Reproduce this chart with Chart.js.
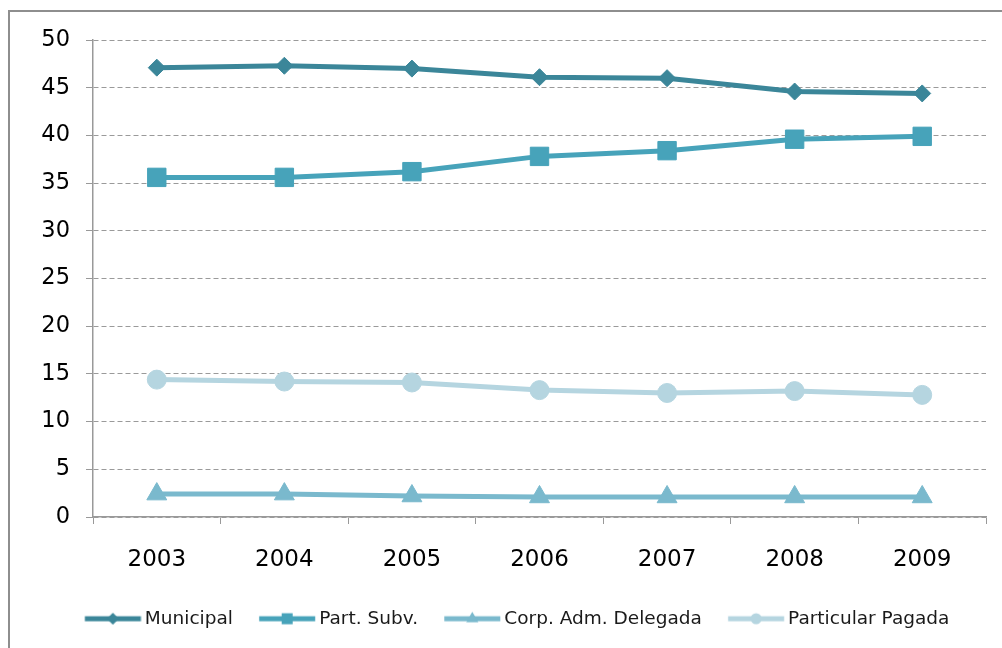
<!DOCTYPE html>
<html>
<head>
<meta charset="utf-8">
<script src="https://cdn.jsdelivr.net/npm/chart.js@4.4.1/dist/chart.umd.min.js"></script>
<style>
html,body{margin:0;padding:0;background:#fff;overflow:hidden}
#wrap{position:relative;width:1002px;height:648px;overflow:hidden}
#frame{position:absolute;left:8px;top:10px;width:1100px;height:700px;border:2px solid #8e8e8e;box-sizing:border-box;pointer-events:none}
canvas{position:absolute;left:0;top:0}
</style>
</head>
<body>
<div id="wrap"><canvas id="c" width="1002" height="648"></canvas><div id="frame"></div></div>
<script>
// ---- data ----
const years = ['2003', '2004', '2005', '2006', '2007', '2008', '2009'];
const municipal = [47.1, 47.3, 47.0, 46.1, 46.0, 44.6, 44.4];
const partSubv = [35.6, 35.6, 36.2, 37.8, 38.4, 39.6, 39.9];
const corpAdm = [2.4, 2.4, 2.2, 2.1, 2.1, 2.1, 2.1];
const particular = [14.4, 14.2, 14.1, 13.3, 13.0, 13.2, 12.8];
const seriesNames = ['Municipal', 'Part. Subv.', 'Corp. Adm. Delegada', 'Particular Pagada'];
const yMin = 0, yMax = 50, yStep = 5;

// ---- styles ----
const colors = ['#3b8699', '#47a3ba', '#7ab9cd', '#b5d5e0'];
const FS = 18.5, BW = 64, VIS = 56, GAPT = 4;

function makeSample(color, style, size) {
  const W = 76, H = 22;
  const c = document.createElement('canvas');
  c.width = W; c.height = H;
  const g = c.getContext('2d');
  const center = BW / 2;
  const visEnd = BW + FS / 2 - GAPT;
  const visStart = visEnd - VIS;
  const left = center - W / 2;
  const x0 = visStart - left, x1 = visEnd - left;
  const cy = H / 2;
  g.strokeStyle = color; g.lineWidth = 5; g.lineCap = 'butt';
  g.beginPath(); g.moveTo(x0, cy); g.lineTo(x1, cy); g.stroke();
  const mx = (x0 + x1) / 2;
  g.fillStyle = color;
  g.beginPath();
  if (style === 'rectRot') {
    g.moveTo(mx - size, cy); g.lineTo(mx, cy - size); g.lineTo(mx + size, cy); g.lineTo(mx, cy + size);
  } else if (style === 'rect') {
    g.rect(mx - size, cy - size, size * 2, size * 2);
  } else if (style === 'triangle') {
    g.moveTo(mx, cy - size); g.lineTo(mx + size * 0.866, cy + size * 0.5); g.lineTo(mx - size * 0.866, cy + size * 0.5);
  } else {
    g.arc(mx, cy, size, 0, Math.PI * 2);
  }
  g.closePath(); g.fill();
  return c;
}

const styles = ['rectRot', 'rect', 'triangle', 'circle'];
const radii = [8.5, 13, 11.5, 9.5];
const sampleSizes = [6, 5.5, 7, 5.5];
const samples = styles.map((s, i) => makeSample(colors[i], s, sampleSizes[i]));
const seriesData = [municipal, partSubv, corpAdm, particular];

const datasets = seriesData.map((d, i) => ({
  label: seriesNames[i],
  data: d,
  borderColor: colors[i],
  backgroundColor: colors[i],
  borderWidth: 5,
  pointStyle: styles[i],
  pointRadius: radii[i],
  pointHoverRadius: radii[i],
  pointBorderWidth: 1,
  pointBorderColor: colors[i],
  pointBackgroundColor: colors[i],
  tension: 0,
  fill: false
}));

new Chart(document.getElementById('c'), {
  type: 'line',
  data: { labels: years, datasets },
  options: {
    responsive: false,
    animation: false,
    devicePixelRatio: 1,
    layout: { padding: { left: 35, right: 16, top: 40, bottom: 10 } },
    plugins: {
      tooltip: { enabled: false },
      legend: {
        position: 'bottom',
        labels: {
          usePointStyle: true,
          pointStyleWidth: BW,
          padding: 13,
          color: '#1a1a1a',
          font: { family: 'DejaVu Sans', size: FS },
          generateLabels: (chart) => {
            const items = Chart.defaults.plugins.legend.labels.generateLabels(chart);
            items.forEach((it, i) => { it.pointStyle = samples[i]; });
            return items;
          }
        }
      }
    },
    scales: {
      x: {
        type: 'category',
        offset: true,
        grid: { display: true, drawOnChartArea: false, drawTicks: true, tickLength: 7, color: '#999', offset: true, tickColor: '#999' },
        border: { display: true, color: '#999', width: 1.5 },
        ticks: { color: '#000', padding: 22, font: { family: 'DejaVu Sans', size: 23 }, maxRotation: 0 },
        afterFit: (s) => { s.height = 79.5; }
      },
      y: {
        min: yMin, max: yMax,
        grid: { color: '#9a9a9a', lineWidth: 1, tickLength: 7, tickColor: '#999' },
        border: { display: true, color: '#999', width: 1.5, dash: [5, 3] },
        ticks: { stepSize: yStep, color: '#000', padding: 16, font: { family: 'DejaVu Sans', size: 22.5 } },
        afterFit: (s) => { s.width = 58; }
      }
    }
  }
});
</script>
</body>
</html>
